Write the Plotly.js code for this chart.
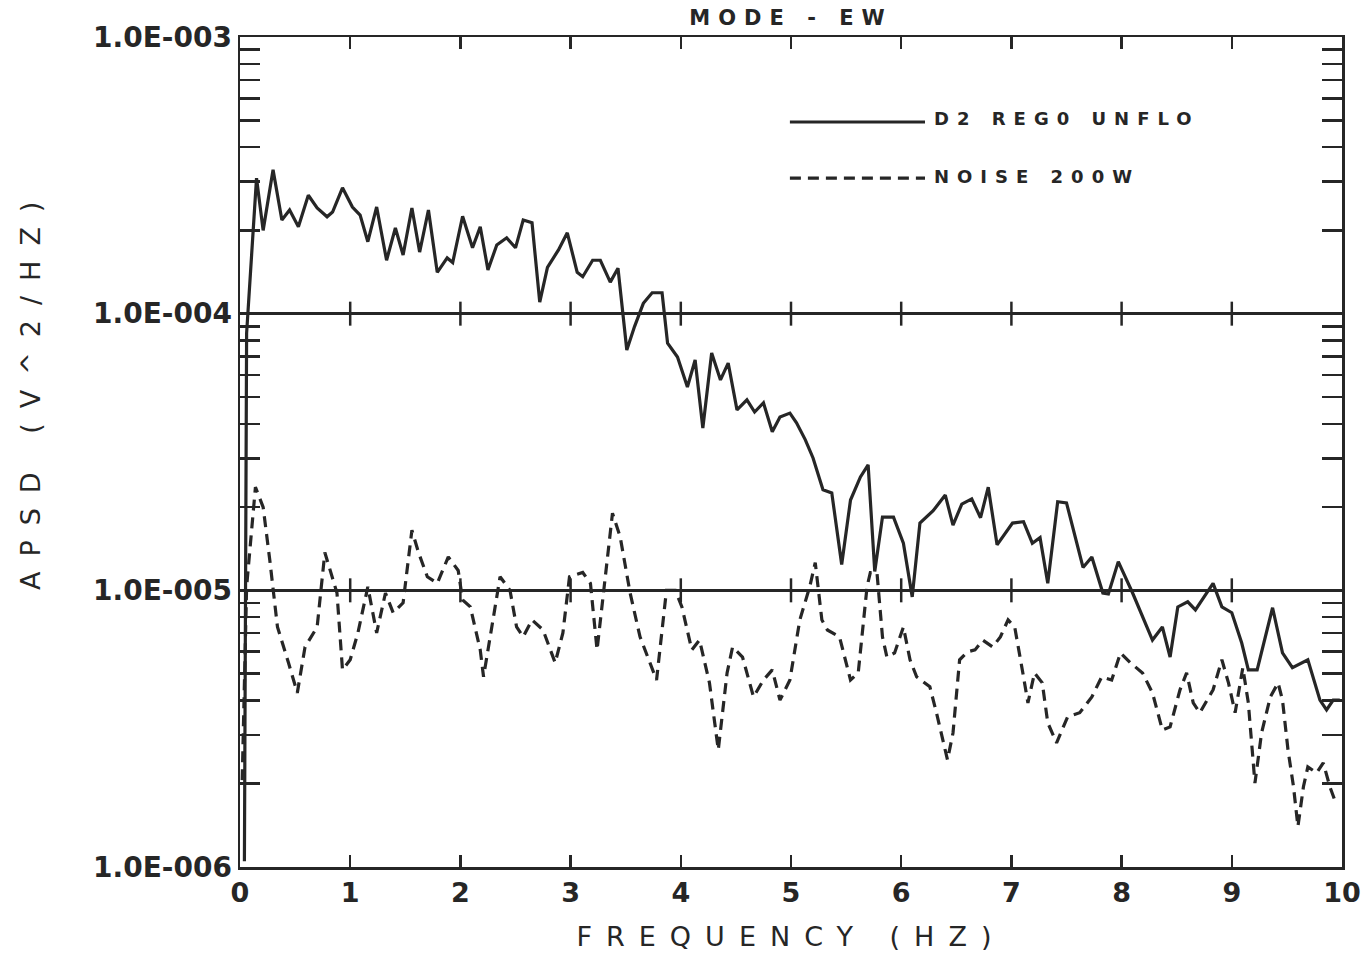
<!DOCTYPE html>
<html><head><meta charset="utf-8">
<script src="https://cdn.plot.ly/plotly-3.0.1.min.js"></script>
<style>
html,body{margin:0;padding:0;background:#fff;}
#chart{width:1363px;height:971px;}
.xtitle{letter-spacing:14px;}
.gtitle{letter-spacing:8px;}
</style></head><body><div id="chart"></div><script>
// ---- data ----
const signalFreq = [0.04,0.06,0.15,0.21,0.30,0.38,0.45,0.53,0.62,0.70,0.79,0.84,0.93,1.02,1.09,1.16,1.24,1.33,1.41,1.48,1.56,1.63,1.71,1.79,1.88,1.93,2.02,2.11,2.18,2.25,2.33,2.42,2.50,2.57,2.65,2.72,2.79,2.89,2.97,3.06,3.11,3.20,3.27,3.36,3.43,3.51,3.58,3.66,3.74,3.83,3.88,3.97,4.06,4.13,4.20,4.28,4.36,4.43,4.51,4.60,4.67,4.75,4.83,4.90,4.99,5.05,5.13,5.20,5.29,5.37,5.46,5.54,5.63,5.70,5.76,5.83,5.93,6.02,6.10,6.17,6.29,6.40,6.47,6.55,6.64,6.72,6.79,6.87,7.01,7.11,7.19,7.26,7.33,7.42,7.50,7.65,7.73,7.83,7.88,7.97,8.10,8.28,8.37,8.44,8.51,8.60,8.67,8.74,8.83,8.91,9.00,9.09,9.15,9.23,9.37,9.46,9.55,9.69,9.80,9.86,9.92,9.98];
const signalApsd = [1.05e-6,8.5e-5,3.09e-4,2.0e-4,3.31e-4,2.18e-4,2.37e-4,2.06e-4,2.68e-4,2.41e-4,2.24e-4,2.33e-4,2.85e-4,2.43e-4,2.27e-4,1.82e-4,2.43e-4,1.56e-4,2.04e-4,1.63e-4,2.41e-4,1.67e-4,2.37e-4,1.41e-4,1.59e-4,1.53e-4,2.25e-4,1.73e-4,2.06e-4,1.44e-4,1.77e-4,1.88e-4,1.73e-4,2.18e-4,2.13e-4,1.10e-4,1.47e-4,1.70e-4,1.96e-4,1.41e-4,1.36e-4,1.56e-4,1.56e-4,1.30e-4,1.46e-4,7.39e-5,8.98e-5,1.09e-4,1.19e-4,1.19e-4,7.83e-5,6.97e-5,5.43e-5,6.80e-5,3.86e-5,7.21e-5,5.76e-5,6.63e-5,4.49e-5,4.88e-5,4.41e-5,4.76e-5,3.74e-5,4.23e-5,4.37e-5,4.03e-5,3.50e-5,3.01e-5,2.31e-5,2.25e-5,1.24e-5,2.12e-5,2.57e-5,2.84e-5,1.17e-5,1.84e-5,1.84e-5,1.48e-5,9.47e-6,1.75e-5,1.94e-5,2.21e-5,1.72e-5,2.05e-5,2.14e-5,1.83e-5,2.36e-5,1.46e-5,1.75e-5,1.77e-5,1.48e-5,1.55e-5,1.06e-5,2.09e-5,2.07e-5,1.21e-5,1.32e-5,9.78e-6,9.70e-6,1.27e-5,9.78e-6,6.61e-6,7.37e-6,5.74e-6,8.71e-6,9.09e-6,8.50e-6,9.39e-6,1.06e-5,8.71e-6,8.30e-6,6.45e-6,5.16e-6,5.16e-6,8.65e-6,5.94e-6,5.25e-6,5.61e-6,4.01e-6,3.70e-6,4.01e-6,4.01e-6];

const noiseFreq = [0.02,0.06,0.14,0.21,0.27,0.34,0.44,0.52,0.59,0.70,0.77,0.84,0.88,0.93,1.00,1.07,1.16,1.24,1.32,1.39,1.48,1.56,1.62,1.70,1.79,1.89,1.98,2.02,2.09,2.18,2.21,2.30,2.36,2.45,2.51,2.57,2.65,2.75,2.86,2.93,2.99,3.11,3.18,3.24,3.29,3.38,3.45,3.54,3.63,3.78,3.87,3.95,4.01,4.10,4.17,4.26,4.34,4.42,4.47,4.56,4.66,4.75,4.83,4.90,4.99,5.08,5.17,5.22,5.28,5.33,5.44,5.54,5.61,5.69,5.72,5.78,5.83,5.87,5.94,6.02,6.08,6.14,6.26,6.32,6.42,6.47,6.53,6.60,6.67,6.74,6.83,6.90,6.97,7.03,7.11,7.15,7.21,7.28,7.33,7.41,7.51,7.62,7.73,7.82,7.91,7.99,8.08,8.19,8.28,8.37,8.44,8.53,8.59,8.65,8.71,8.83,8.91,8.97,9.03,9.10,9.15,9.21,9.27,9.35,9.42,9.46,9.51,9.56,9.60,9.65,9.69,9.77,9.83,9.89,9.94];
const noiseApsd = [2.06e-6,1.03e-5,2.36e-5,2.00e-5,1.29e-5,7.37e-6,5.47e-6,4.26e-6,6.24e-6,7.37e-6,1.37e-5,1.12e-5,9.78e-6,5.16e-6,5.61e-6,7.02e-6,1.03e-5,7.02e-6,9.78e-6,8.30e-6,9.01e-6,1.65e-5,1.37e-5,1.12e-5,1.06e-5,1.32e-5,1.18e-5,9.23e-6,8.71e-6,6.09e-6,4.87e-6,8.01e-6,1.12e-5,1.00e-5,7.37e-6,6.79e-6,7.82e-6,7.19e-6,5.47e-6,7.02e-6,1.12e-5,1.16e-5,1.06e-5,6.09e-6,9.23e-6,1.90e-5,1.56e-5,9.78e-6,6.79e-6,4.74e-6,1.00e-5,1.00e-5,8.71e-6,6.09e-6,6.61e-6,4.63e-6,2.65e-6,5.03e-6,6.24e-6,5.74e-6,4.12e-6,4.74e-6,5.16e-6,4.01e-6,4.74e-6,7.82e-6,1.03e-5,1.26e-5,7.82e-6,7.19e-6,6.79e-6,4.74e-6,5.03e-6,1.03e-5,1.16e-5,1.16e-5,6.79e-6,5.74e-6,5.94e-6,7.37e-6,5.61e-6,4.87e-6,4.48e-6,3.61e-6,2.44e-6,3.05e-6,5.61e-6,5.99e-6,6.09e-6,6.61e-6,6.24e-6,6.79e-6,7.82e-6,7.37e-6,4.87e-6,3.92e-6,5.03e-6,4.63e-6,3.32e-6,2.81e-6,3.49e-6,3.61e-6,4.12e-6,4.87e-6,4.74e-6,5.94e-6,5.47e-6,5.03e-6,4.26e-6,3.13e-6,3.21e-6,4.37e-6,5.03e-6,3.92e-6,3.61e-6,4.37e-6,5.61e-6,4.63e-6,3.61e-6,5.25e-6,3.92e-6,2.01e-6,3.05e-6,4.12e-6,4.63e-6,4.01e-6,2.65e-6,1.95e-6,1.40e-6,1.95e-6,2.30e-6,2.19e-6,2.38e-6,1.95e-6,1.72e-6];

const xTicks = [0,1,2,3,4,5,6,7,8,9,10];
const xTickLabels = ['0','1','2','3','4','5','6','7','8','9','10'];
const yDecades = [1e-6,1e-5,1e-4,1e-3];
const yTickLabels = ['1.0E-006','1.0E-005','1.0E-004','1.0E-003'];
const yMinor = [2e-6,3e-6,4e-6,5e-6,6e-6,7e-6,8e-6,9e-6,2e-5,3e-5,4e-5,5e-5,6e-5,7e-5,8e-5,9e-5,2e-4,3e-4,4e-4,5e-4,6e-4,7e-4,8e-4,9e-4];
const gridLevels = [1e-5,1e-4];
const seriesNames = ['D2 REG0 UNFLO','NOISE 200W'];
const yTitle = 'APSD (V^2/HZ)';

// ---- drawing ----
const INK = '#262626';
const FAM = 'DejaVu Sans, sans-serif';
const Y_LOG_RANGE = [-6,-3];
const spaced = (t, px) => '<span style="letter-spacing:' + px + 'px">' + t + '</span>';

const traces = [
  {x: signalFreq, y: signalApsd, name: seriesNames[0], type:'scatter', mode:'lines',
   line:{color:INK, width:3.2}},
  {x: noiseFreq, y: noiseApsd, name: seriesNames[1], type:'scatter', mode:'lines',
   line:{color:INK, width:3.2, dash:'11px,7px'}}
];

const shapes = [];
// crossing tick marks on the two horizontal grid lines
gridLevels.forEach(g => {
  const frac = (Math.log10(g) - Y_LOG_RANGE[0]) / (Y_LOG_RANGE[1] - Y_LOG_RANGE[0]);
  xTicks.slice(1, -1).forEach(xv => {
    shapes.push({type:'line', xref:'x', yref:'paper', x0:xv, x1:xv,
      ysizemode:'pixel', yanchor:frac, y0:-12, y1:12,
      line:{color:INK, width:2.5}});
  });
});
// custom legend samples
const legX0 = 0.499, legX1 = 0.6216;
shapes.push({type:'line', xref:'paper', yref:'paper', x0:legX0, x1:legX1, y0:0.8976, y1:0.8976,
  line:{color:INK, width:3.2}});
shapes.push({type:'line', xref:'paper', yref:'paper', x0:legX0, x1:legX1, y0:0.830, y1:0.830,
  line:{color:INK, width:3.2, dash:'11px,7px'}});

const annotations = [
  {text:spaced(yTitle, 15), xref:'paper', yref:'paper', x:0, xshift:-210, y:0.577,
   xanchor:'center', yanchor:'middle', textangle:-90, showarrow:false,
   font:{family:FAM, size:27, color:INK}},
  {text:spaced(seriesNames[0], 8), xref:'paper', yref:'paper', x:0.628, y:0.9024, xanchor:'left', yanchor:'middle',
   showarrow:false, font:{family:FAM, size:18, weight:'bold', color:INK}},
  {text:spaced(seriesNames[1], 8), xref:'paper', yref:'paper', x:0.628, y:0.8325, xanchor:'left', yanchor:'middle',
   showarrow:false, font:{family:FAM, size:18, weight:'bold', color:INK}}
];

const layout = {
  width:1363, height:971,
  margin:{l:240, r:21, t:37, b:104},
  paper_bgcolor:'#ffffff', plot_bgcolor:'#ffffff',
  showlegend:false,
  title:{text:'MODE - EW', x:0.5, xref:'paper', xanchor:'center', y:1-18/971, yref:'container', yanchor:'middle',
    font:{family:FAM, size:21, weight:'bold', color:INK}},
  xaxis:{range:[0,10], tickmode:'array', tickvals:xTicks, ticktext:xTickLabels,
    ticks:'inside', ticklen:12, tickwidth:2.5, tickcolor:INK,
    showline:true, linewidth:2.5, linecolor:INK, mirror:'ticks',
    showgrid:false, zeroline:false,
    tickfont:{family:FAM, size:27, weight:'bold', color:INK},
    title:{text:'FREQUENCY (HZ)', standoff:20, font:{family:FAM, size:27, color:INK}}},
  yaxis:{type:'log', range:Y_LOG_RANGE, tickmode:'array', tickvals:yDecades, ticktext:yTickLabels,
    ticks:'', showgrid:true, gridcolor:INK, gridwidth:2.5,
    showline:true, linewidth:2.5, linecolor:INK, mirror:'ticks', zeroline:false,
    minor:{tickmode:'array', tickvals:yMinor, ticks:'inside', ticklen:20, tickwidth:2.5, tickcolor:INK, showgrid:false},
    tickfont:{family:FAM, size:28, weight:'bold', color:INK}},
  shapes: shapes,
  annotations: annotations
};

Plotly.newPlot('chart', traces, layout, {displayModeBar:false, staticPlot:true});
</script></body></html>
